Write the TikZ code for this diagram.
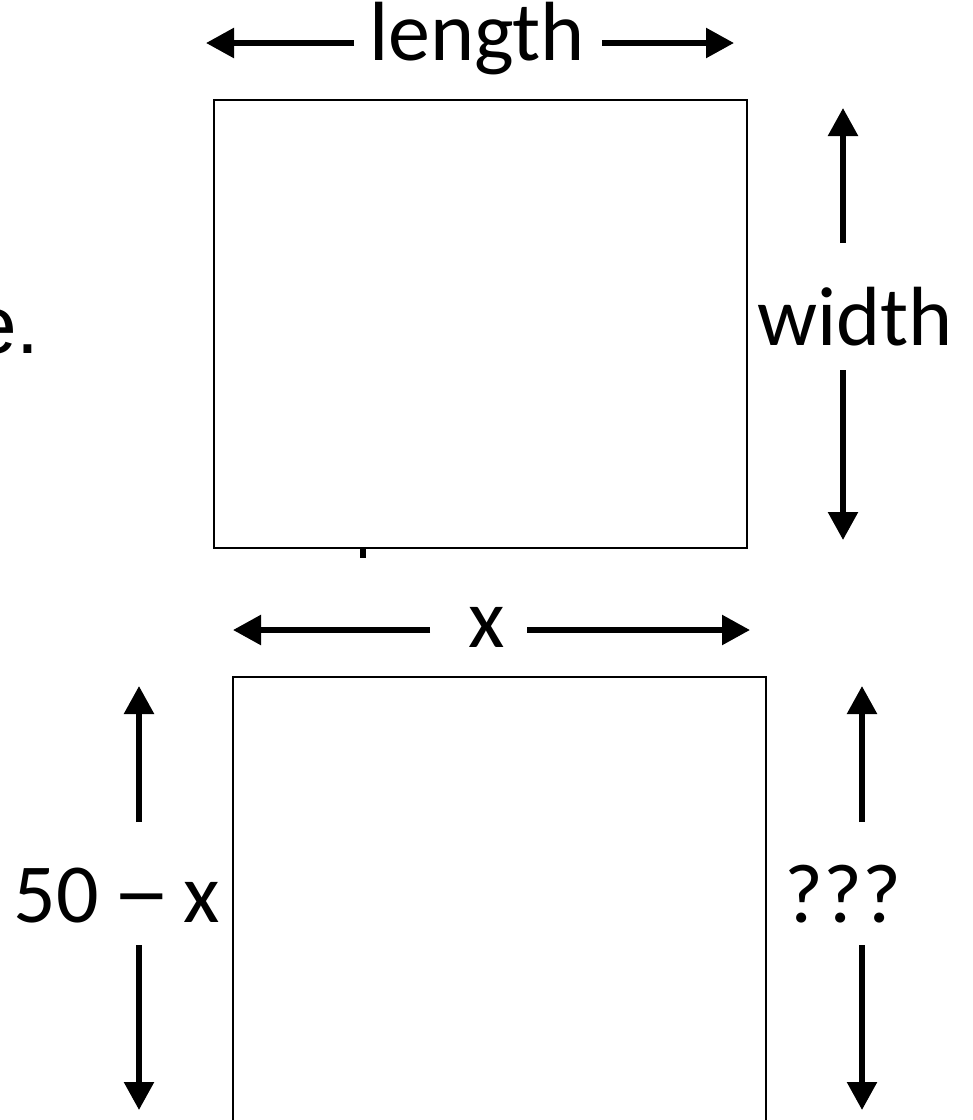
\documentclass[tikz,border=0pt]{standalone}
\usepackage{fontspec}
\usepackage{graphicx}
\setmainfont{Carlito}
\newfontfamily\arialfont{Liberation Sans}
\usetikzlibrary{arrows.meta}
\tikzset{
  dimarrow/.style={line width=2.8pt, -{Triangle[width=14.5pt,length=14pt]}},
  box/.style={draw, line width=1pt},
  lbl/.style={inner sep=0pt, anchor=base, font=\fontsize{42}{50}\selectfont}
}
\begin{document}
\begin{tikzpicture}[x=0.5pt,y=-0.5pt]
\useasboundingbox (0,0) rectangle (973,1120);
\clip (0,0) rectangle (973,1120);

% rectangles
\draw[box] (214,100) rectangle (747,548);
\fill (360,548) rectangle (366,558);
\draw[box] (233,677) rectangle (766,1140);

% labels
\node[lbl] (len) at (477,60) {length};
\node[lbl] (wid) at (855,345) {width};
\node[lbl] (xx) at (487,647) {x};
\node[lbl, anchor=base east] (fifty) at (220,922) {50\kern0.17em\scalebox{1.4}[1.1]{–}\kern0.14em x};
\node[lbl] (ques) at (843,922) {???};
\node[lbl, anchor=base east, font=\arialfont\fontsize{41}{49}\selectfont] (frag) at (40,353) {e.};

% arrow ends
\coordinate (lenL) at (354,43);  \coordinate (lenLtip) at (206,43);
\coordinate (lenR) at (602,43);  \coordinate (lenRtip) at (734,43);
\coordinate (widU) at (843,243); \coordinate (widUtip) at (843,108);
\coordinate (widD) at (843,370); \coordinate (widDtip) at (843,540);
\coordinate (xL) at (430,630);   \coordinate (xLtip) at (233,630);
\coordinate (xR) at (527,630);   \coordinate (xRtip) at (750,630);
\coordinate (fiftyU) at (139,822); \coordinate (fiftyUtip) at (139,686);
\coordinate (fiftyD) at (139,945); \coordinate (fiftyDtip) at (139,1110);
\coordinate (quesU) at (862,822); \coordinate (quesUtip) at (862,686);
\coordinate (quesD) at (862,945); \coordinate (quesDtip) at (862,1110);

\draw[dimarrow] (lenL) -- (lenLtip);
\draw[dimarrow] (lenR) -- (lenRtip);
\draw[dimarrow] (widU) -- (widUtip);
\draw[dimarrow] (widD) -- (widDtip);
\draw[dimarrow] (xL) -- (xLtip);
\draw[dimarrow] (xR) -- (xRtip);
\draw[dimarrow] (fiftyU) -- (fiftyUtip);
\draw[dimarrow] (fiftyD) -- (fiftyDtip);
\draw[dimarrow] (quesU) -- (quesUtip);
\draw[dimarrow] (quesD) -- (quesDtip);
\end{tikzpicture}
\end{document}
